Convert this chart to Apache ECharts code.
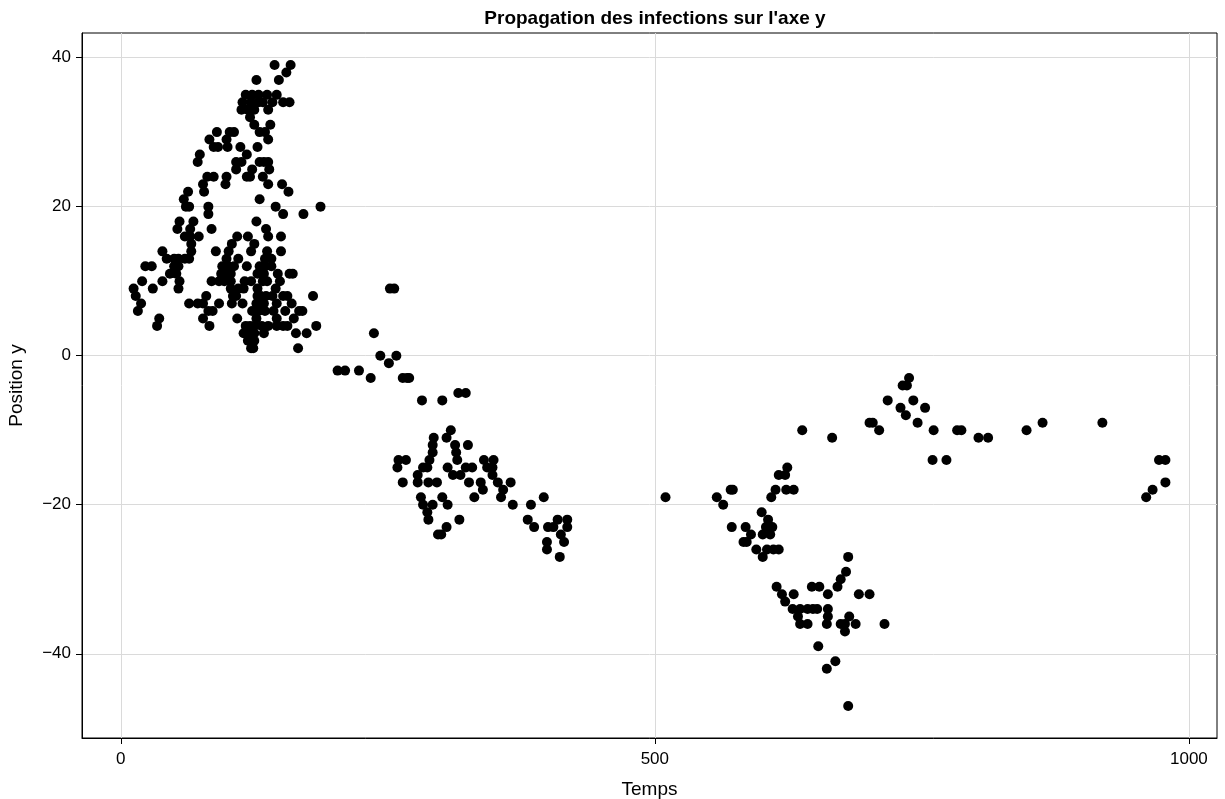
<!DOCTYPE html>
<html>
<head>
<meta charset="utf-8">
<script src="https://cdn.jsdelivr.net/npm/echarts@6/dist/echarts.min.js"></script>
<style>
html,body{margin:0;padding:0;background:#fff;}
#chart{width:1225px;height:799px;}
</style>
</head>
<body>
<div id="chart"></div>
<script>
const chartTitle = "Propagation des infections sur l'axe y";
const xAxisTitle = "Temps";
const yAxisTitle = "Position y";
const xTicks = [0, 500, 1000];
const yTicks = [-40, -20, 0, 20, 40];

const temps = [
  144,159,155,127,148,
  117,123,129,137,146,
  114,122,129,133,142,152,158,
  113,119,125,138,121,125,140,
  90,102,106,130,135,83,99,138,
  87,91,100,112,128,74,118,
  72,108,113,130,134,138,108,123,139,
  81,87,99,118,121,133,77,98,138,151,
  63,78,157,59,130,
  61,64,82,145,187,82,152,171,
  55,68,127,53,65,85,136,
  60,65,73,109,119,138,150,66,104,125,
  39,66,89,101,122,137,150,
  43,50,54,60,64,99,110,135,141,
  23,29,50,54,95,101,106,118,130,135,141,
  46,52,94,100,103,128,134,147,158,161,
  20,39,55,85,92,97,103,116,122,133,137,149,
  12,30,54,103,110,115,128,145,
  14,80,105,108,128,131,136,142,152,156,180,
  19,64,72,77,92,104,114,127,131,134,146,160,
  16,82,86,123,129,135,143,154,167,170,
  36,77,109,127,146,162,
  34,83,117,121,125,132,138,146,152,156,183,
  115,120,125,134,164,174,119,125,122,124,166,
  203,210,223,234,237,243,251,252,256,258,264,268,270,282,301,316,323,
  309,305,293,292,292,313,325,314,315,289,
  287,283,267,260,259,278,306,311,318,323,329,
  326,337,340,343,264,278,288,296,339,331,
  281,301,283,292,306,287,288,317,305,297,300,
  349,348,348,353,365,358,356,367,384,396,
  381,387,409,418,400,405,418,412,415,399,399,411,
  510,558,564,571,573,572,585,590,583,586,595,601,
  600,606,604,610,601,608,605,611,616,609,613,616,
  614,624,622,630,623,638,
  619,630,622,629,636,643,648,652,634,636,643,
  647,654,662,662,662,661,674,678,682,688,678,
  671,674,679,681,691,701,715,653,669,661,681,666,
  738,732,736,718,742,730,753,735,746,701,704,
  710,761,783,787,803,812,848,863,760,773,
  919,972,978,978,966,960
];

const positionY = [
  39,39,38,37,37,
  35,35,35,35,35,
  34,34,34,34,34,34,34,
  33,33,33,33,32,31,31,
  30,30,30,30,30,29,29,29,
  28,28,28,28,28,27,27,
  26,26,26,26,26,26,25,25,25,
  24,24,24,24,24,24,23,23,23,23,
  22,22,22,21,21,
  20,20,20,20,20,19,19,19,
  18,18,18,17,17,17,17,
  16,16,16,16,16,16,16,15,15,15,
  14,14,14,14,14,14,14,
  13,13,13,13,13,13,13,13,13,
  12,12,12,12,12,12,12,12,12,12,12,
  11,11,11,11,11,11,11,11,11,11,
  10,10,10,10,10,10,10,10,10,10,10,10,
  9,9,9,9,9,9,9,9,
  8,8,8,8,8,8,8,8,8,8,8,
  7,7,7,7,7,7,7,7,7,7,7,7,
  6,6,6,6,6,6,6,6,6,6,
  5,5,5,5,5,5,
  4,4,4,4,4,4,4,4,4,4,4,
  3,3,3,3,3,3,2,2,1,1,1,
  -2,-2,-2,-3,3,0,-1,9,9,0,-3,-3,-3,-6,-6,-5,-5,
  -10,-11,-11,-12,-13,-12,-12,-13,-14,-14,
  -15,-15,-14,-14,-15,-16,-15,-16,-16,-15,-15,
  -17,-17,-14,-15,-17,-17,-17,-17,-18,-19,
  -19,-19,-20,-20,-20,-21,-22,-22,-23,-24,-24,
  -14,-15,-16,-17,-17,-18,-19,-20,-20,-19,
  -22,-23,-22,-22,-23,-23,-23,-24,-25,-25,-26,-27,
  -19,-19,-20,-18,-18,-23,-23,-24,-25,-25,-26,-27,
  -21,-22,-23,-23,-24,-24,-26,-26,-26,-19,-18,-16,
  -31,-15,-16,-18,-18,-10,
  -32,-32,-33,-34,-34,-34,-34,-34,-35,-36,-36,
  -31,-31,-32,-34,-35,-36,-36,-36,-35,-36,-37,
  -31,-30,-29,-27,-32,-32,-36,-39,-41,-42,-47,-11,
  -3,-4,-4,-6,-6,-7,-7,-8,-9,-9,-9,
  -10,-10,-10,-10,-11,-11,-10,-9,-14,-14,
  -9,-14,-14,-17,-18,-19
];

const points = temps.map((t, i) => [t, positionY[i]]);
const fmt = v => String(v).replace('-', '\u2212');
const FONT = 'Liberation Sans, Arial, sans-serif';

const chart = echarts.init(document.getElementById('chart'), null, {renderer: 'canvas'});
chart.setOption({
  backgroundColor: '#fff',
  animation: false,
  title: {
    text: chartTitle,
    left: 650,
    top: 4,
    textAlign: 'center',
    textStyle: {fontFamily: FONT, fontSize: 19, fontWeight: 'bold', color: '#000'}
  },
  grid: {
    left: 82, right: 8, top: 33, bottom: 61,
    outerBoundsMode: 'none',
    containLabel: false,
    show: true, borderColor: '#000', borderWidth: 1, backgroundColor: 'transparent'
  },
  xAxis: {
    type: 'value',
    min: -36.3, max: 1026.3,
    name: xAxisTitle, nameLocation: 'middle', nameGap: 42,
    nameTextStyle: {fontFamily: FONT, fontSize: 19, color: '#000'},
    axisLine: {show: true, onZero: false, lineStyle: {color: '#000', width: 1}},
    axisTick: {show: true, inside: false, length: 6, lineStyle: {color: '#000', width: 1}, customValues: xTicks},
    axisLabel: {fontFamily: FONT, fontSize: 17, color: '#000', margin: 13, customValues: xTicks, formatter: fmt},
    splitLine: {show: true, lineStyle: {color: '#dadada', width: 1}}
  },
  yAxis: {
    type: 'value',
    min: -51.3, max: 43.3,
    name: yAxisTitle, nameLocation: 'middle', nameGap: 56, nameRotate: 90,
    nameTextStyle: {fontFamily: FONT, fontSize: 19, color: '#000'},
    axisLine: {show: true, onZero: false, lineStyle: {color: '#000', width: 1}},
    axisTick: {show: true, inside: false, length: 6, lineStyle: {color: '#000', width: 1}, customValues: yTicks},
    axisLabel: {fontFamily: FONT, fontSize: 17, color: '#000', margin: 11, customValues: yTicks, formatter: fmt},
    splitLine: {show: true, lineStyle: {color: '#dadada', width: 1}}
  },
  series: [{
    type: 'scatter',
    data: points,
    symbol: 'circle',
    symbolSize: 10,
    itemStyle: {color: '#000', opacity: 1},
    silent: true
  }]
});
</script>
</body>
</html>
